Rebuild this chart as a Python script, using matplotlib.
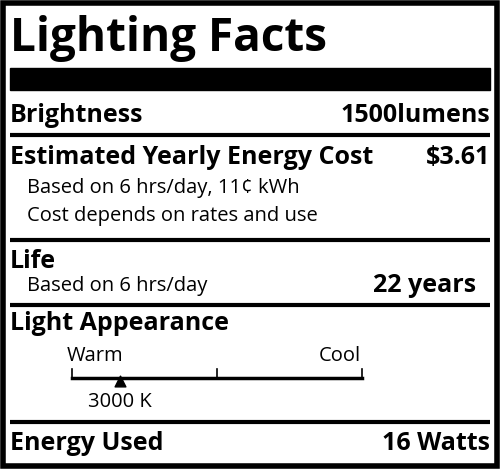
import matplotlib.pyplot as plt
from matplotlib.patches import Rectangle

title = "Lighting Facts"
rows_bold = ["Brightness", "Estimated Yearly Energy Cost", "Life", "Light Appearance", "Energy Used"]
row_y = [115, 157, 262, 323, 443]
values = ["1500lumens", "$3.61", "", "", "16 Watts"]
notes = ["Based on 6 hrs/day, 11¢ kWh", "Cost depends on rates and use", "Based on 6 hrs/day"]
note_y = [188, 216, 286]
life_value = "22 years"
divider_y = [135, 240, 305, 422]

# color temperature scale
cct_min, cct_max = 2700, 4500
cct_value = 3000
scale_x0, scale_x1, scale_y = 72, 362, 378


def cct_to_x(k):
    return scale_x0 + (k - cct_min) / (cct_max - cct_min) * (scale_x1 - scale_x0)


fig = plt.figure(figsize=(5.0, 4.69), dpi=100)
axis = fig.add_axes([0, 0, 1, 1])
axis.set_xlim(0, 500)
axis.set_ylim(469, 0)
axis.axis("off")

fam = ["Open Sans", "DejaVu Sans"]
bold_size = 18
note_size = 14.5

# outer border
axis.add_patch(Rectangle((3, 3), 494, 463, fill=False, edgecolor="black", linewidth=4))
axis.text(10, 38, title, fontsize=33, fontweight="bold", va="center", family=fam)
axis.add_patch(Rectangle((10, 68), 480, 22, color="black"))

for label, y, value in zip(rows_bold, row_y, values):
    axis.text(10, y, label, fontsize=bold_size, fontweight="bold", va="center", family=fam)
    if value:
        axis.text(490, y, value, fontsize=bold_size, fontweight="bold", va="center", ha="right", family=fam)

for note, y in zip(notes, note_y):
    axis.text(27, y, note, fontsize=note_size, va="center", family=fam)
axis.text(476, note_y[2], life_value, fontsize=bold_size, fontweight="bold", va="center", ha="right", family=fam)

for y in divider_y:
    axis.plot([10, 490], [y, y], color="black", linewidth=3, solid_capstyle="butt")

# scale
axis.plot([scale_x0, scale_x1], [scale_y, scale_y], color="black", linewidth=2.5)
for k in [cct_min, (cct_min + cct_max) / 2, cct_max]:
    axis.plot([cct_to_x(k)] * 2, [scale_y, scale_y - 9], color="black", linewidth=1.2)
axis.text(95, 356, "Warm", fontsize=note_size, va="center", ha="center", family=fam)
axis.text(340, 356, "Cool", fontsize=note_size, va="center", ha="center", family=fam)
axis.scatter([cct_to_x(cct_value)], [scale_y + 3], marker="^", s=60, color="black", zorder=5)
axis.text(cct_to_x(cct_value), 402, f"{cct_value} K", fontsize=note_size, va="center", ha="center", family=fam)

fig.savefig("out.png", dpi=100)
